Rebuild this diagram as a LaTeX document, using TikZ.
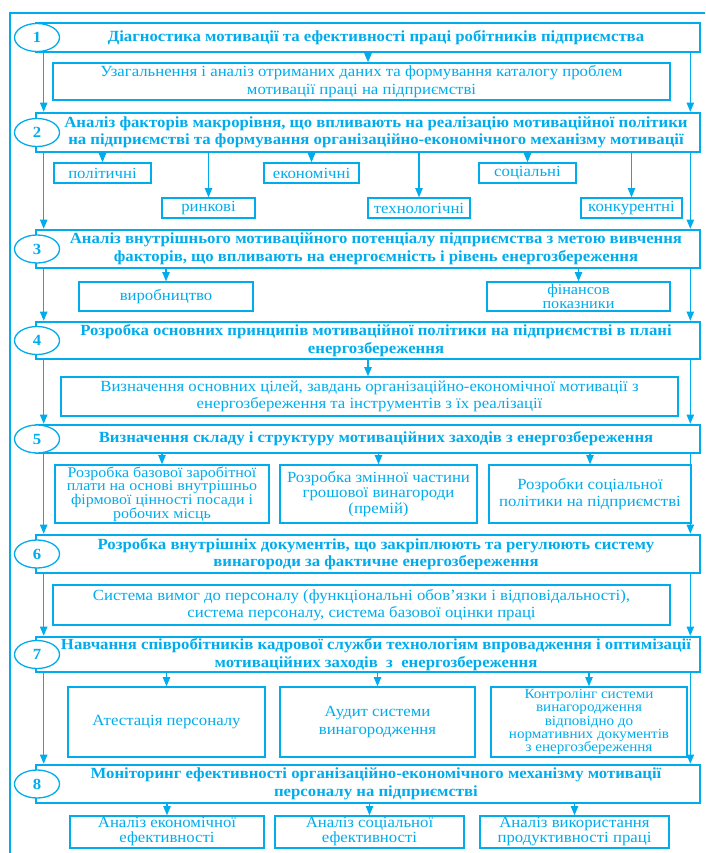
\documentclass[tikz,border=0pt]{standalone}
\usepackage{fontspec}
\setmainfont[FakeStretch=1.08]{Liberation Serif}
\usetikzlibrary{shapes,arrows}

\definecolor{skyline}{RGB}{0,172,236}
\newcommand{\stagetext}[1]{\hspace*{16pt}\parbox{648pt}{\centering #1}}

\tikzset{
  stage/.style={rectangle, draw=skyline, line width=2.6pt, minimum width=664pt, inner sep=0pt, text=skyline, font=\bfseries\fontsize{15.5}{17.5}\selectfont},
  stagenum/.style={ellipse, draw=skyline, fill=white, line width=1.3pt, minimum width=45pt, minimum height=28pt, inner sep=0pt, text=skyline, font=\bfseries\fontsize{15.5}{17}\selectfont},
  item/.style={rectangle, draw=skyline, line width=1.6pt, inner sep=0pt, align=center, text=skyline, font=\fontsize{15.5}{17.5}\selectfont},
  flow/.style={draw=skyline, line width=1.1pt, -{triangle 45[scale=1.5]}},
}

\begin{document}
\begin{tikzpicture}[x=1pt, y=-1pt]
  % \draw[step=50,thin,gray!40] (0,0) grid (705,853);
  \useasboundingbox (0,0) rectangle (705,853);

  \draw[skyline, line width=2.4pt] (10,853) -- (10,13) -- (705,13);

  \node[stage, minimum height=29pt] (stageANode) at (368,37.5) {\stagetext{Діагностика мотивації та ефективності праці робітників підприємства}};
  \node[stage, minimum height=39pt] (stageBNode) at (368,132.5) {\stagetext{Аналіз факторів макрорівня, що впливають на реалізацію мотиваційної політики\\на підприємстві та формування організаційно-економічного механізму мотивації}};
  \node[stage, minimum height=38pt] (stageCNode) at (368,249) {\stagetext{Аналіз внутрішнього мотиваційного потенціалу підприємства з метою вивчення\\факторів, що впливають на енергоємність і рівень енергозбереження}};
  \node[stage, minimum height=37pt] (stageDNode) at (368,340.5) {\stagetext{Розробка основних принципів мотиваційної політики на підприємстві в плані\\енергозбереження}};
  \node[stage, minimum height=28pt] (stageENode) at (368,439) {\stagetext{Визначення складу і структуру мотиваційних заходів з енергозбереження}};
  \node[stage, minimum height=38pt] (stageFNode) at (368,554) {\stagetext{Розробка внутрішніх документів, що закріплюють та регулюють систему\\винагороди за фактичне енергозбереження}};
  \node[stage, minimum height=35pt] (stageGNode) at (368,654.5) {\stagetext{Навчання співробітників кадрової служби технологіям впровадження і оптимізації\\мотиваційних заходів~~з~~енергозбереження}};
  \node[stage, minimum height=38pt] (stageHNode) at (368,784) {\stagetext{Моніторинг ефективності організаційно-економічного механізму мотивації\\персоналу на підприємстві}};

  \node[stagenum] (numANode) at (37,37.5) {1};
  \node[stagenum] (numBNode) at (37,132.5) {2};
  \node[stagenum] (numCNode) at (37,249) {3};
  \node[stagenum] (numDNode) at (37,340.5) {4};
  \node[stagenum] (numENode) at (37,439) {5};
  \node[stagenum] (numFNode) at (37,554) {6};
  \node[stagenum] (numGNode) at (37,654.5) {7};
  \node[stagenum] (numHNode) at (37,784) {8};

  \node[item, minimum width=617pt, minimum height=37pt] (subANode) at (361.5,81.5) {Узагальнення і аналіз отриманих даних та формування каталогу проблем\\мотивації праці на підприємстві};

  \node[item, minimum width=97pt, minimum height=20pt] (polNode) at (102.5,173) {політичні};
  \node[item, minimum width=95pt, minimum height=20pt] (econNode) at (311.5,173) {економічні};
  \node[item, minimum width=97pt, minimum height=20pt] (socNode) at (527.5,173) {соціальні};
  \node[item, minimum width=93pt, minimum height=20pt] (marketNode) at (208.5,208) {ринкові};
  \node[item, minimum width=102pt, minimum height=20pt] (techNode) at (419,208) {технологічні};
  \node[item, minimum width=101pt, minimum height=20pt] (compNode) at (631.5,208) {конкурентні};

  \node[item, minimum width=174pt, minimum height=29pt] (prodNode) at (166,296.5) {виробництво};
  \node[item, minimum width=183pt, minimum height=29pt, font=\fontsize{15}{14}\selectfont] (finNode) at (578.5,296.5) {фінансов\\показники};

  \node[item, minimum width=617pt, minimum height=39pt] (subDNode) at (369.5,396.5) {Визначення основних цілей, завдань організаційно-економічної мотивації з\\енергозбереження та інструментів з їх реалізації};

  \node[item, minimum width=214pt, minimum height=58pt, font=\fontsize{14.8}{13.8}\selectfont] (wageNode) at (162,494) {Розробка базової заробітної\\плати на основі внутрішньо\\фірмової цінності посади і\\робочих місць};
  \node[item, minimum width=197pt, minimum height=58pt, font=\fontsize{15.5}{15.5}\selectfont] (bonusNode) at (378.5,494) {Розробка змінної частини\\грошової винагороди\\(премій)};
  \node[item, minimum width=202pt, minimum height=58pt] (socpolNode) at (590,494) {Розробки соціальної\\політики на підприємстві};

  \node[item, minimum width=617pt, minimum height=40pt] (subFNode) at (361.5,605) {Система вимог до персоналу (функціональні обов’язки і відповідальності),\\система персоналу, система базової оцінки праці};

  \node[item, minimum width=197pt, minimum height=70pt] (attestNode) at (166.5,722) {Атестація персоналу};
  \node[item, minimum width=195pt, minimum height=70pt] (auditNode) at (377.5,722) {Аудит системи\\винагородження};
  \node[item, minimum width=196pt, minimum height=70pt, font=\fontsize{14}{13.2}\selectfont] (controlNode) at (589,722) {Контролінг системи\\винагородження\\відповідно до\\нормативних документів\\з енергозбереження};

  \node[item, minimum width=194pt, minimum height=32pt, font=\fontsize{15.5}{15}\selectfont] (effecNode) at (167,832) {Аналіз економічної\\ефективності};
  \node[item, minimum width=189pt, minimum height=32pt, font=\fontsize{15.5}{15}\selectfont] (effsocNode) at (369.5,832) {Аналіз соціальної\\ефективності};
  \node[item, minimum width=189pt, minimum height=32pt, font=\fontsize{15.5}{15}\selectfont] (usageNode) at (574.5,832) {Аналіз використання\\продуктивності праці};

  % side arrows
  \foreach \from/\to in {stageANode/stageBNode, stageBNode/stageCNode, stageCNode/stageDNode, stageDNode/stageENode, stageENode/stageFNode, stageFNode/stageGNode, stageGNode/stageHNode}{
    \draw[flow] ([xshift=9pt]\from.south west) -- ([xshift=9pt]\to.north west);
    \draw[flow] ([xshift=-11pt]\from.south east) -- ([xshift=-11pt]\to.north east);
  }

  \draw[flow] (stageANode.south) -- (stageANode.south |- subANode.north);
  \draw[flow] (stageDNode.south) -- (stageDNode.south |- subDNode.north);

  \foreach \sub in {polNode, econNode, socNode, marketNode, techNode, compNode}
    \draw[flow] (stageBNode.south -| \sub.north) -- (\sub.north);
  \foreach \sub in {prodNode, finNode}
    \draw[flow] (stageCNode.south -| \sub.north) -- (\sub.north);
  \foreach \sub in {wageNode, bonusNode, socpolNode}
    \draw[flow] (stageENode.south -| \sub.north) -- (\sub.north);
  \foreach \sub in {attestNode, auditNode, controlNode}
    \draw[flow] (stageGNode.south -| \sub.north) -- (\sub.north);
  \foreach \sub in {effecNode, effsocNode, usageNode}
    \draw[flow] (stageHNode.south -| \sub.north) -- (\sub.north);

\end{tikzpicture}
\end{document}
